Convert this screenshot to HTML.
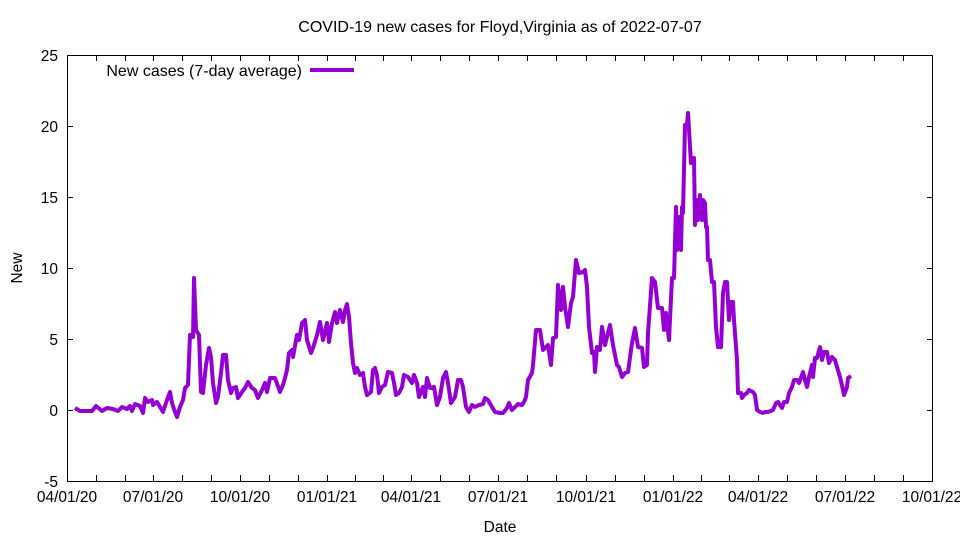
<!DOCTYPE html>
<html><head><meta charset="utf-8"><style>body{margin:0;background:#fff}svg{display:block}text{font-family:"Liberation Sans",sans-serif;font-size:15.5px;fill:#000}</style></head><body>
<svg width="960" height="540" viewBox="0 0 960 540">
<rect width="960" height="540" fill="#fff"/>
<text x="500" y="32" text-anchor="middle" style="font-size:16px">COVID-19 new cases for Floyd,Virginia as of 2022-07-07</text>
<g id="ticks" stroke="#000" stroke-width="1">
<path d="M67,481.5h6M927,481.5h6M67,410.5h6M927,410.5h6M67,339.5h6M927,339.5h6M67,268.5h6M927,268.5h6M67,197.5h6M927,197.5h6M67,126.5h6M927,126.5h6M67,55.5h6M927,55.5h6"/>
<path d="M67.5,481v-6M96.5,481v-6M125.5,481v-6M153.5,481v-6M182.5,481v-6M211.5,481v-6M240.5,481v-6M269.5,481v-6M298.5,481v-6M327.5,481v-6M355.5,481v-6M383.5,481v-6M411.5,481v-6M440.5,481v-6M469.5,481v-6M498.5,481v-6M527.5,481v-6M556.5,481v-6M586.5,481v-6M615.5,481v-6M644.5,481v-6M673.5,481v-6M701.5,481v-6M729.5,481v-6M758.5,481v-6M787.5,481v-6M816.5,481v-6M845.5,481v-6M874.5,481v-6M903.5,481v-6M932.5,481v-6"/>
<path d="M67.5,55v6M96.5,55v6M125.5,55v6M153.5,55v6M182.5,55v6M211.5,55v6M240.5,55v6M269.5,55v6M298.5,55v6M327.5,55v6M355.5,55v6M383.5,55v6M411.5,55v6M440.5,55v6M469.5,55v6M498.5,55v6M527.5,55v6M556.5,55v6M586.5,55v6M615.5,55v6M644.5,55v6M673.5,55v6M701.5,55v6M729.5,55v6M758.5,55v6M787.5,55v6M816.5,55v6M845.5,55v6M874.5,55v6M903.5,55v6M932.5,55v6"/>
</g>
<rect x="67.5" y="55.5" width="865" height="426" fill="none" stroke="#000" stroke-width="1"/>
<g text-anchor="end">
<text x="58" y="487">-5</text><text x="58" y="416">0</text><text x="58" y="345">5</text><text x="58" y="274">10</text><text x="58" y="203">15</text><text x="58" y="132">20</text><text x="58" y="61">25</text>
</g>
<g text-anchor="middle">
<text x="67" y="502">04/01/20</text><text x="153" y="502">07/01/20</text><text x="240" y="502">10/01/20</text><text x="327" y="502">01/01/21</text><text x="411" y="502">04/01/21</text><text x="498" y="502">07/01/21</text><text x="586" y="502">10/01/21</text><text x="673" y="502">01/01/22</text><text x="758" y="502">04/01/22</text><text x="845" y="502">07/01/22</text><text x="932" y="502">10/01/22</text>
<text x="500" y="532">Date</text>
</g>
<text x="22" y="268" text-anchor="middle" transform="rotate(-90 22 268)">New</text>
<text x="302" y="76" text-anchor="end" style="font-size:16px">New cases (7-day average)</text>
<path d="M310,70h44" stroke="#9400d3" stroke-width="4"/>
<polyline fill="none" stroke="#9400d3" stroke-width="4" stroke-linejoin="round" points="75,408 80,411 92,411 96,406 102,411 107,408 113,409 118,411 122,407 127,409 130,406 132,411 135,404 140,406 143,413 145,398 148,402 152,400 153,405 157,402 160,407 163,412 167,400 170,392 172,403 175,412 177,417 180,407 183,400 185,388 188,385 190,335 193,337 194,278 196,330 199,335 201,392 203,393 206,365 209,348 211,357 213,383 216,403 218,397 221,373 223,355 226,355 228,380 231,393 233,388 236,387 238,398 242,392 245,388 248,382 252,388 255,390 258,398 262,390 265,383 267,392 270,378 275,378 280,392 283,385 285,378 287,370 289,353 292,350 293,357 297,335 299,340 302,323 305,320 307,340 311,353 313,348 317,335 320,322 323,340 327,323 329,342 332,323 335,312 337,323 340,310 343,322 345,310 347,304 349,317 351,343 353,363 355,373 357,368 360,375 363,373 365,387 367,395 371,392 373,370 375,368 377,375 379,393 382,387 385,385 388,372 392,373 394,383 396,395 399,393 402,387 404,375 408,377 412,383 414,375 417,383 419,397 423,387 425,397 427,378 430,388 434,387 437,405 440,397 443,378 446,372 448,383 451,403 455,397 458,380 461,380 463,387 466,407 469,412 472,405 475,407 479,405 483,404 485,398 488,400 492,407 495,412 500,413 503,413 507,408 509,403 512,410 515,407 518,404 522,405 524,402 526,397 528,380 532,373 533,365 536,330 540,330 543,350 546,347 548,345 551,365 553,338 556,337 558,285 561,310 563,287 565,307 568,327 571,303 573,297 576,260 579,273 583,272 585,270 587,287 589,327 592,353 594,352 595,372 597,347 600,350 602,327 605,345 608,333 610,325 613,345 617,365 619,367 622,377 625,373 628,372 632,343 635,328 638,347 642,348 644,367 647,365 648,333 652,278 655,282 658,308 662,308 664,330 666,313 669,340 672,278 674,278 676,207 677,250 679,217 681,250 682,207 683,213 685,125 687,125 688,113 691,163 693,158 694,158 695,225 697,200 698,220 700,195 702,220 703,200 705,203 706,227 707,227 708,260 710,260 712,282 714,282 716,327 718,347 721,347 723,293 725,282 727,282 729,320 731,302 733,302 734,320 737,360 738,393 741,393 742,398 744,395 747,393 749,390 753,392 755,395 757,410 760,412 763,413 765,412 768,412 773,410 776,403 778,402 782,408 784,402 787,402 789,393 792,387 794,380 797,380 799,383 803,372 805,380 807,387 809,377 812,365 813,377 815,358 817,358 820,347 822,360 824,352 827,352 829,363 832,357 835,360 837,367 840,377 843,390 844,395 847,387 848,378 851,376"/>
</svg>
</body></html>
